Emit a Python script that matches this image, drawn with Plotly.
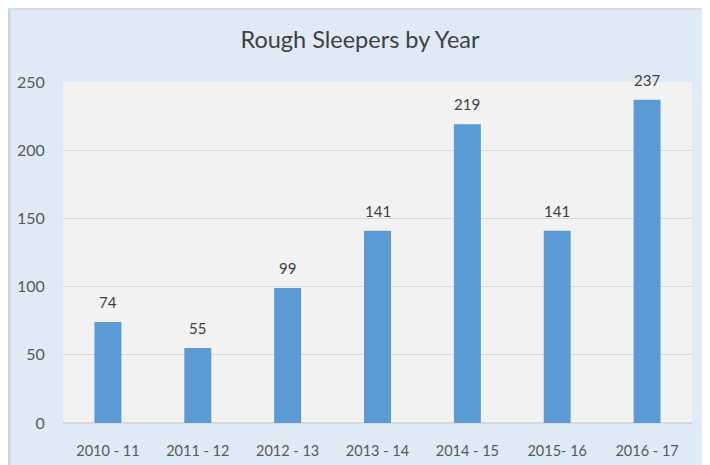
import plotly.graph_objects as go

categories = ["2010 - 11", "2011 - 12", "2012 - 13", "2013 - 14", "2014 - 15", "2015- 16", "2016 - 17"]
values = [74, 55, 99, 141, 219, 141, 237]
y_ticks = [0, 50, 100, 150, 200, 250]

FONT = "Lato, sans-serif"

fig = go.Figure()
fig.add_trace(go.Bar(
    x=categories, y=values,
    marker=dict(color="#5B9BD5", line=dict(width=0)),
    hoverinfo="x+y",
))

for c, v in zip(categories, values):
    fig.add_annotation(x=c, y=v, text=str(v), showarrow=False, yanchor="bottom", yshift=9,
                       font=dict(family=FONT, size=15, color="#404040"))

fig.update_layout(
    width=702, height=457,
    margin=dict(l=55, r=18, t=74, b=42),
    paper_bgcolor="#DEEAF6",
    plot_bgcolor="#F2F2F2",
    bargap=0.7,
    showlegend=False,
    title=dict(text="Rough Sleepers by Year", x=352 / 702, xref="container", xanchor="center",
               y=1 - 32 / 457, yref="container", yanchor="middle",
               font=dict(family=FONT, size=23.5, color="#404040")),
    xaxis=dict(showgrid=False, showline=False, ticks="outside", ticklen=15, tickcolor="rgba(0,0,0,0)",
               automargin=False,
               tickfont=dict(family=FONT, size=14.5, color="#595959")),
    yaxis=dict(range=[0, 250], tickvals=y_ticks, showgrid=True, gridcolor="#D9D9D9", gridwidth=1,
               zeroline=True, zerolinecolor="#D9D9D9", showline=False, automargin=False,
               ticks="outside", ticklen=14, tickcolor="rgba(0,0,0,0)",
               tickfont=dict(family=FONT, size=16, color="#595959")),
)

# frame edge lines (left and top)
fig.add_shape(type="line", xref="paper", yref="paper", x0=-54 / 628, x1=-54 / 628, y0=-0.3, y1=1.3,
              line=dict(color="#D0D4D8", width=3))
fig.add_shape(type="line", xref="paper", yref="paper", x0=-0.2, x1=1.2, y0=1 + 73 / 341, y1=1 + 73 / 341,
              line=dict(color="#D9DCDF", width=2))

fig.write_html("out.html", post_script="document.body.style.overflow='hidden';")
